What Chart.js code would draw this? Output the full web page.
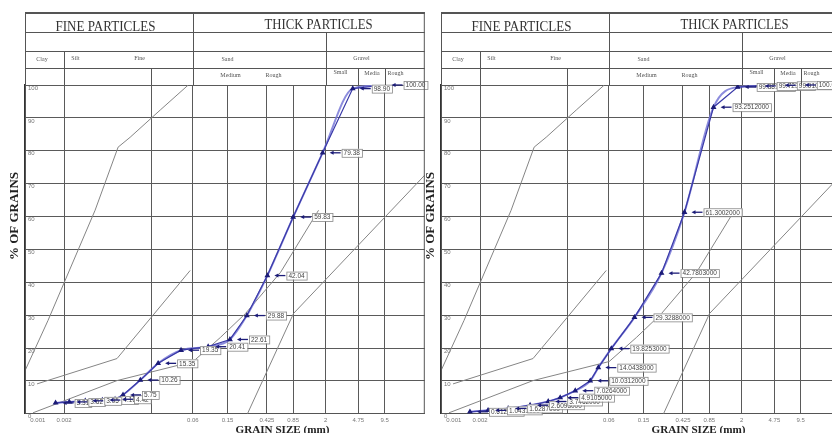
<!DOCTYPE html>
<html>
<head>
<meta charset="utf-8">
<script src="https://cdn.jsdelivr.net/npm/chart.js@4"></script>
<style>
  body { margin: 0; background: #fff; }
  #wrap { position: relative; width: 832px; height: 433px; overflow: hidden; background: #fff; }
  .box { position: absolute; top: 0; height: 433px; }
  #boxA { left: 0; width: 430px; }
  #boxB { left: 416px; width: 422px; }
</style>
</head>
<body>
<div id="wrap">
  <div class="box" id="boxA"><canvas id="chartA"></canvas></div>
  <div class="box" id="boxB"><canvas id="chartB"></canvas></div>
</div>
<script>
// grid lines of the grading template (mm) and their labels
const gridSizes = [0.001, 0.002, 0.02, 0.06, 0.15, 0.425, 0.85, 2, 4.75, 9.5];
const gridLabels = ["0.001", "0.002", "", "0.06", "0.15", "0.425", "0.85", "2", "4.75", "9.5"];

// sample 1 (left chart)
const sizesA = [0.0016, 0.0023, 0.0035, 0.0055, 0.0077, 0.0095, 0.015, 0.024, 0.044, 0.09, 0.16, 0.25, 0.43, 0.85, 1.85, 4.1, 9.5];
const passingA = [3.31, 3.62, 3.95, 4.18, 4.42, 5.75, 10.26, 15.35, 19.35, 20.41, 22.61, 29.88, 42.04, 59.83, 79.38, 98.90, 100.00];

// sample 2 (right chart)
const sizesB = [0.00153, 0.00247, 0.0042, 0.0075, 0.0121, 0.0166, 0.0247, 0.0367, 0.0454, 0.064, 0.118, 0.241, 0.442, 0.952, 1.8, 3.05, 5.19, 8.8];
const passingB = [0.6125, 1.0431, 1.6287, 2.6093, 3.7462, 4.9105, 7.0264, 10.0312, 14.0438, 19.8253, 29.3288, 42.7803, 61.3002, 93.2512, 99.3818, 99.7231, 99.9104, 100.0];

// gray template curves
const curveA_size = [0.000713, 0.00131, 0.00454, 0.00834, 0.01146, 0.0254, 0.0532];
const curveA_pct = [13.1, 28.4, 61.9, 81.1, 84.1, 92.4, 100];
const curveB_size = [0.00098, 0.0081, 0.056];
const curveB_pct = [9.1, 16.8, 43.6];
const curveC_size = [0.00088, 0.0081, 0.0605, 0.124, 0.241, 0.608, 1.66];
const curveC_pct = [0.3, 10.1, 15.9, 23.2, 30.5, 43, 61.9];
const curveD_size = [0.254, 0.857, 27.5];
const curveD_pct = [0, 30.5, 72.6];

function pts(xs, ys) {
  return xs.map(function (x, i) { return { x: x, y: ys[i] }; });
}

// draw text squeezed/stretched to a given width
function fitText(ctx, text, x, y, width, font, align) {
  ctx.save();
  ctx.font = font;
  const w = ctx.measureText(text).width;
  const k = width / w;
  ctx.translate(x, y);
  ctx.scale(k, 1);
  ctx.textAlign = align || "center";
  ctx.fillText(text, 0, 0);
  ctx.restore();
}

const headerPlugin = {
  id: "header",
  afterDraw(chart) {
    const ctx = chart.ctx;
    const a = chart.chartArea;
    const sx = chart.scales.x;
    const px = function (v) { return Math.round(sx.getPixelForValue(v)) + 0.5; };
    const L = a.left + 0.5, R = a.right - 0.5, T = a.top, B = a.bottom;
    ctx.save();
    ctx.strokeStyle = "#555";
    ctx.lineWidth = 1;
    function seg(x1, y1, x2, y2) {
      ctx.beginPath(); ctx.moveTo(x1, y1); ctx.lineTo(x2, y2); ctx.stroke();
    }
    [32.5, 51.5, 68.5].forEach(function (y) { seg(L, y, a.right, y); });
    ctx.lineWidth = 2;
    seg(L, 13, a.right, 13);
    ctx.lineWidth = 1;
    seg(L, 12, L, B);
    if (chart.options.plugins.header.rightBorder) seg(R, 12, R, B);
    seg(px(0.06), 12, px(0.06), T);
    seg(px(2), 32, px(2), T);
    seg(px(0.002), 51, px(0.002), T);
    [0.02, 4.75, 9.5].forEach(function (v) { seg(px(v), 68, px(v), T); });

    ctx.fillStyle = "#333";
    const serif = '"Liberation Serif", "DejaVu Serif", serif';
    fitText(ctx, "FINE PARTICLES", (L + px(0.06)) / 2 - 4, 31, 100, "14px " + serif);
    fitText(ctx, "THICK PARTICLES", px(0.06) + 125, 29, 108, "14px " + serif);

    ctx.fillStyle = "#555";
    ctx.font = "6px " + serif;
    ctx.textAlign = "center";
    ctx.fillText("Clay", (L + px(0.002)) / 2 - 3, 61);
    ctx.fillText("Silt", px(0.002) + 11, 60);
    ctx.fillText("Fine", px(0.02) - 12, 60);
    ctx.fillText("Sand", px(0.15) - 1, 61);
    ctx.fillText("Gravel", px(4.75) + 3, 60);
    ctx.fillText("Medium", px(0.15) + 2, 77);
    ctx.fillText("Rough", px(0.425) + 6, 77);
    ctx.fillText("Small", (px(2) + px(4.75)) / 2 - 2, 74);
    ctx.fillText("Media", (px(4.75) + px(9.5)) / 2, 75);
    ctx.textAlign = "left";
    ctx.fillText("Rough", px(9.5) + 2, 75);

    ctx.fillStyle = "#222";
    ctx.save();
    ctx.translate(18, 216);
    ctx.rotate(-Math.PI / 2);
    fitText(ctx, "% OF GRAINS", 0, 0, 88, "bold 12px " + serif);
    ctx.restore();
    ctx.textBaseline = "top";
    fitText(ctx, "GRAIN SIZE (mm)", L + 257, 425, 94, "bold 11px " + serif);
    ctx.restore();
  }
};

const tagPlugin = {
  id: "tags",
  afterDatasetsDraw(chart) {
    const o = chart.options.plugins.tags;
    const ctx = chart.ctx;
    const meta = chart.getDatasetMeta(o.dataset);
    const data = chart.data.datasets[o.dataset].data;
    ctx.save();
    ctx.font = "6.5px Arial, sans-serif";
    ctx.textBaseline = "middle";
    meta.data.forEach(function (p, i) {
      const txt = data[i].y.toFixed(o.digits);
      const x = p.x, y = p.y;
      ctx.strokeStyle = "#1c1c78";
      ctx.fillStyle = "#1c1c78";
      ctx.lineWidth = 1.3;
      ctx.beginPath(); ctx.moveTo(x + 18, y); ctx.lineTo(x + 10, y); ctx.stroke();
      ctx.beginPath(); ctx.moveTo(x + 7, y); ctx.lineTo(x + 11, y - 2); ctx.lineTo(x + 11, y + 2); ctx.fill();
      const w = ctx.measureText(txt).width + 4;
      ctx.fillStyle = "#fff";
      ctx.fillRect(x + 19, y - 4, w, 8);
      ctx.strokeStyle = "#888";
      ctx.lineWidth = 0.8;
      ctx.strokeRect(x + 19.5, y - 3.5, w, 8);
      ctx.fillStyle = "#444";
      ctx.fillText(txt, x + 21, y + 0.5);
    });
    ctx.restore();
  }
};

function makeChart(id, sizes, passing, xMax, digits, rightBorder) {
  const gray = { borderColor: "#858585", borderWidth: 1, pointRadius: 0, tension: 0, fill: false };
  return new Chart(document.getElementById(id), {
    type: "line",
    data: {
      datasets: [
        {
          data: pts(sizes, passing),
          borderColor: "#3a3aa8",
          borderWidth: 1.2,
          pointStyle: "triangle",
          pointRadius: 2.2,
          pointBackgroundColor: "#1c1c78",
          pointBorderColor: "#1c1c78",
          tension: 0
        },
        {
          data: pts(sizes, passing),
          borderColor: "rgba(120,120,215,0.85)",
          borderWidth: 2,
          pointRadius: 0,
          cubicInterpolationMode: "monotone"
        },
        Object.assign({ data: pts(curveA_size, curveA_pct) }, gray),
        Object.assign({ data: pts(curveB_size, curveB_pct) }, gray),
        Object.assign({ data: pts(curveC_size, curveC_pct) }, gray),
        Object.assign({ data: pts(curveD_size, curveD_pct) }, gray)
      ]
    },
    options: {
      responsive: true,
      maintainAspectRatio: false,
      animation: false,
      events: [],
      layout: { padding: { left: 19, top: 85, right: 0, bottom: 6 } },
      scales: {
        x: {
          type: "logarithmic",
          bounds: "data",
          min: 0.000713,
          max: xMax,
          afterBuildTicks: function (scale) {
            scale.ticks = gridSizes.map(function (v) { return { value: v }; });
          },
          ticks: {
            autoSkip: false,
            maxRotation: 0,
            padding: 3,
            color: "#777",
            font: { size: 6, family: "Arial" },
            callback: function (v, i) { return gridLabels[i]; }
          },
          grid: {
            drawTicks: false,
            color: function (c) { return c.tick && c.tick.value === 0.001 ? "rgba(0,0,0,0)" : "#5a5a5a"; }
          },
          border: { display: true, color: "#555" }
        },
        y: {
          min: 0,
          max: 100,
          ticks: {
            stepSize: 10,
            mirror: true,
            padding: 3,
            labelOffset: 3,
            color: "#777",
            font: { size: 6, family: "Arial" }
          },
          grid: { drawTicks: false, color: "#5a5a5a" },
          border: { display: true, color: "#333", width: 1.5 }
        }
      },
      plugins: {
        legend: { display: false },
        tooltip: { enabled: false },
        header: { rightBorder: rightBorder },
        tags: { dataset: 0, digits: digits }
      }
    },
    plugins: [headerPlugin, tagPlugin]
  });
}

makeChart("chartA", sizesA, passingA, 27.5, 2, true);
makeChart("chartB", sizesB, passingB, 22.2, 7, false);
</script>
</body>
</html>
